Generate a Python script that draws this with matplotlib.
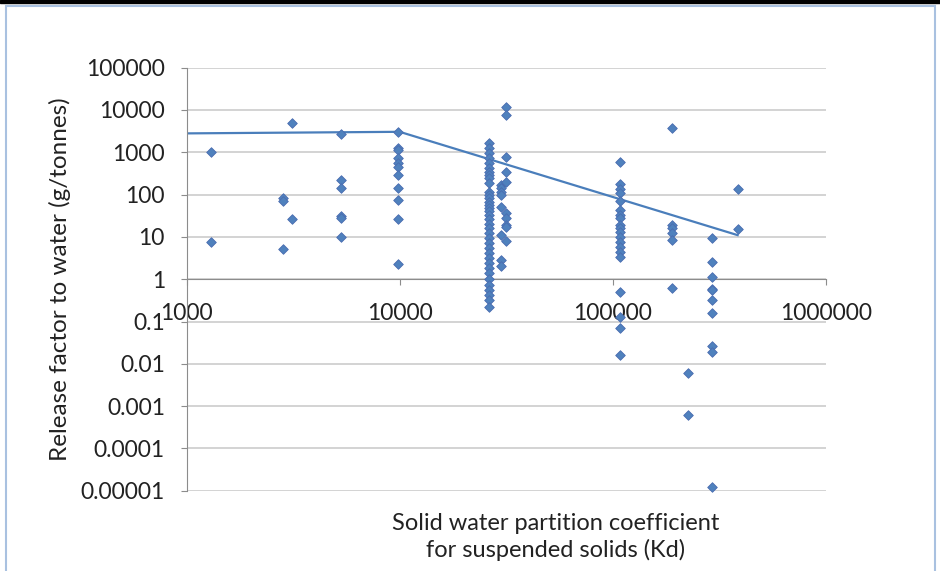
import matplotlib.pyplot as plt
from matplotlib.patches import Rectangle

plt.rcParams['font.family'] = ['Lato', 'DejaVu Sans']

# Kd values (x) and release factors (y), one list pair per column of points
kd_1300 = [1040, 7.5]
kd_2840 = [82, 72, 5.2]
kd_3110 = [5020, 26]
kd_5290 = [2710, 222, 146, 31, 28, 9.8]
kd_9800 = [3080, 1240, 1134, 721, 550, 459, 292, 141, 75, 26, 2.3]
kd_26200 = [1690, 1242, 947, 721, 550, 419, 349, 292, 243, 185, 118, 98, 82,
            68, 57, 48, 40, 33, 26, 20.7, 16, 12.4, 9.5, 7.2, 5.5, 4.2, 3.2,
            2.4, 1.8, 1.4, 1.0, 0.73, 0.56, 0.42, 0.32, 0.22]
kd_29900 = [169, 141, 118, 98, 52, 11, 2.9, 2.0]
kd_31600 = [12000, 7600, 762, 349, 203, 36, 28, 19, 17.5, 7.8]
kd_108000 = [575, 174, 132, 110, 69, 44, 33, 28, 19, 16, 13, 10, 7.6, 5.8,
             4.4, 3.3, 0.49, 0.13, 0.07, 0.016]
kd_189000 = [3690, 19, 16, 12.2, 8.5, 0.61]
kd_226000 = [0.006, 0.0006]
kd_292000 = [9.3, 2.6, 1.1, 0.6, 0.55, 0.33, 0.16, 0.027, 0.019, 0.000012]
kd_385000 = [134, 15.2]

columns = {
    1300: kd_1300, 2840: kd_2840, 3110: kd_3110, 5290: kd_5290,
    9800: kd_9800, 26200: kd_26200, 29900: kd_29900, 31600: kd_31600,
    108000: kd_108000, 189000: kd_189000, 226000: kd_226000,
    292000: kd_292000, 385000: kd_385000,
}

# fitted line
line_x = [1000, 10000, 385000]
line_y = [2800, 3050, 11]

x_ticks = [1000, 10000, 100000, 1000000]
x_labels = ["1000", "10000", "100000", "1000000"]
y_ticks = [1e5, 1e4, 1e3, 1e2, 1e1, 1, 0.1, 0.01, 0.001, 0.0001, 0.00001]
y_labels = ["100000", "10000", "1000", "100", "10", "1", "0.1", "0.01",
            "0.001", "0.0001", "0.00001"]

xs = []
ys = []
for k, vals in columns.items():
    for v in vals:
        xs.append(k)
        ys.append(v)

fig = plt.figure(figsize=(9.4, 5.71), dpi=100)
ax = fig.add_axes([186.5 / 940, 1 - 490.7 / 571, (826 - 186.5) / 940, (490.7 - 67.7) / 571])

ax.set_xscale("log")
ax.set_yscale("log")
ax.set_xlim(1000, 1000000)
ax.set_ylim(1e-5, 1e5)

ax.yaxis.grid(True, color="#D0D0D0", linewidth=1.3)
ax.set_axisbelow(True)

ax.plot(line_x, line_y, color="#4A7EBB", linewidth=1.6, zorder=2)
ax.scatter(xs, ys, marker="D", s=24, facecolor="#4F81BD", edgecolor="#4A6CB0",
           linewidth=0.6, zorder=3, clip_on=False)

ax.set_xticks(x_ticks)
ax.set_xticklabels(x_labels)
ax.set_yticks(y_ticks)
ax.set_yticklabels(y_labels)
ax.minorticks_off()

for s in ["top", "right"]:
    ax.spines[s].set_visible(False)
ax.spines["left"].set_color("#8C8C8C")
ax.spines["bottom"].set_color("#8C8C8C")
ax.spines["bottom"].set_position(("data", 1))

ax.tick_params(axis="y", direction="out", length=4.5, color="#8C8C8C",
               labelsize=16.5, pad=11, labelcolor="#222222")
ax.tick_params(axis="x", direction="out", length=4, color="#8C8C8C",
               labelsize=16.5, pad=13, labelcolor="#222222")

fig.text(60 / 940, 1 - 279 / 571, "Release factor to water (g/tonnes)",
         rotation=90, ha="center", va="center", fontsize=17.5, color="#222222")
fig.text(556 / 940, 1 - 537 / 571,
         "Solid water partition coefficient\nfor suspended solids (Kd)",
         ha="center", va="center", fontsize=17, color="#222222", linespacing=1.25)

# chart area border
fig.patches.append(Rectangle((6 / 940, -0.05), 929 / 940, 1.05 - 6 / 571,
                             transform=fig.transFigure, fill=False,
                             edgecolor="#A9C1E0", linewidth=1.5))
fig.patches.append(Rectangle((0, 1 - 2.5 / 571), 1, 2.5 / 571,
                             transform=fig.transFigure, color="black"))

fig.savefig("out.png", dpi=100)
